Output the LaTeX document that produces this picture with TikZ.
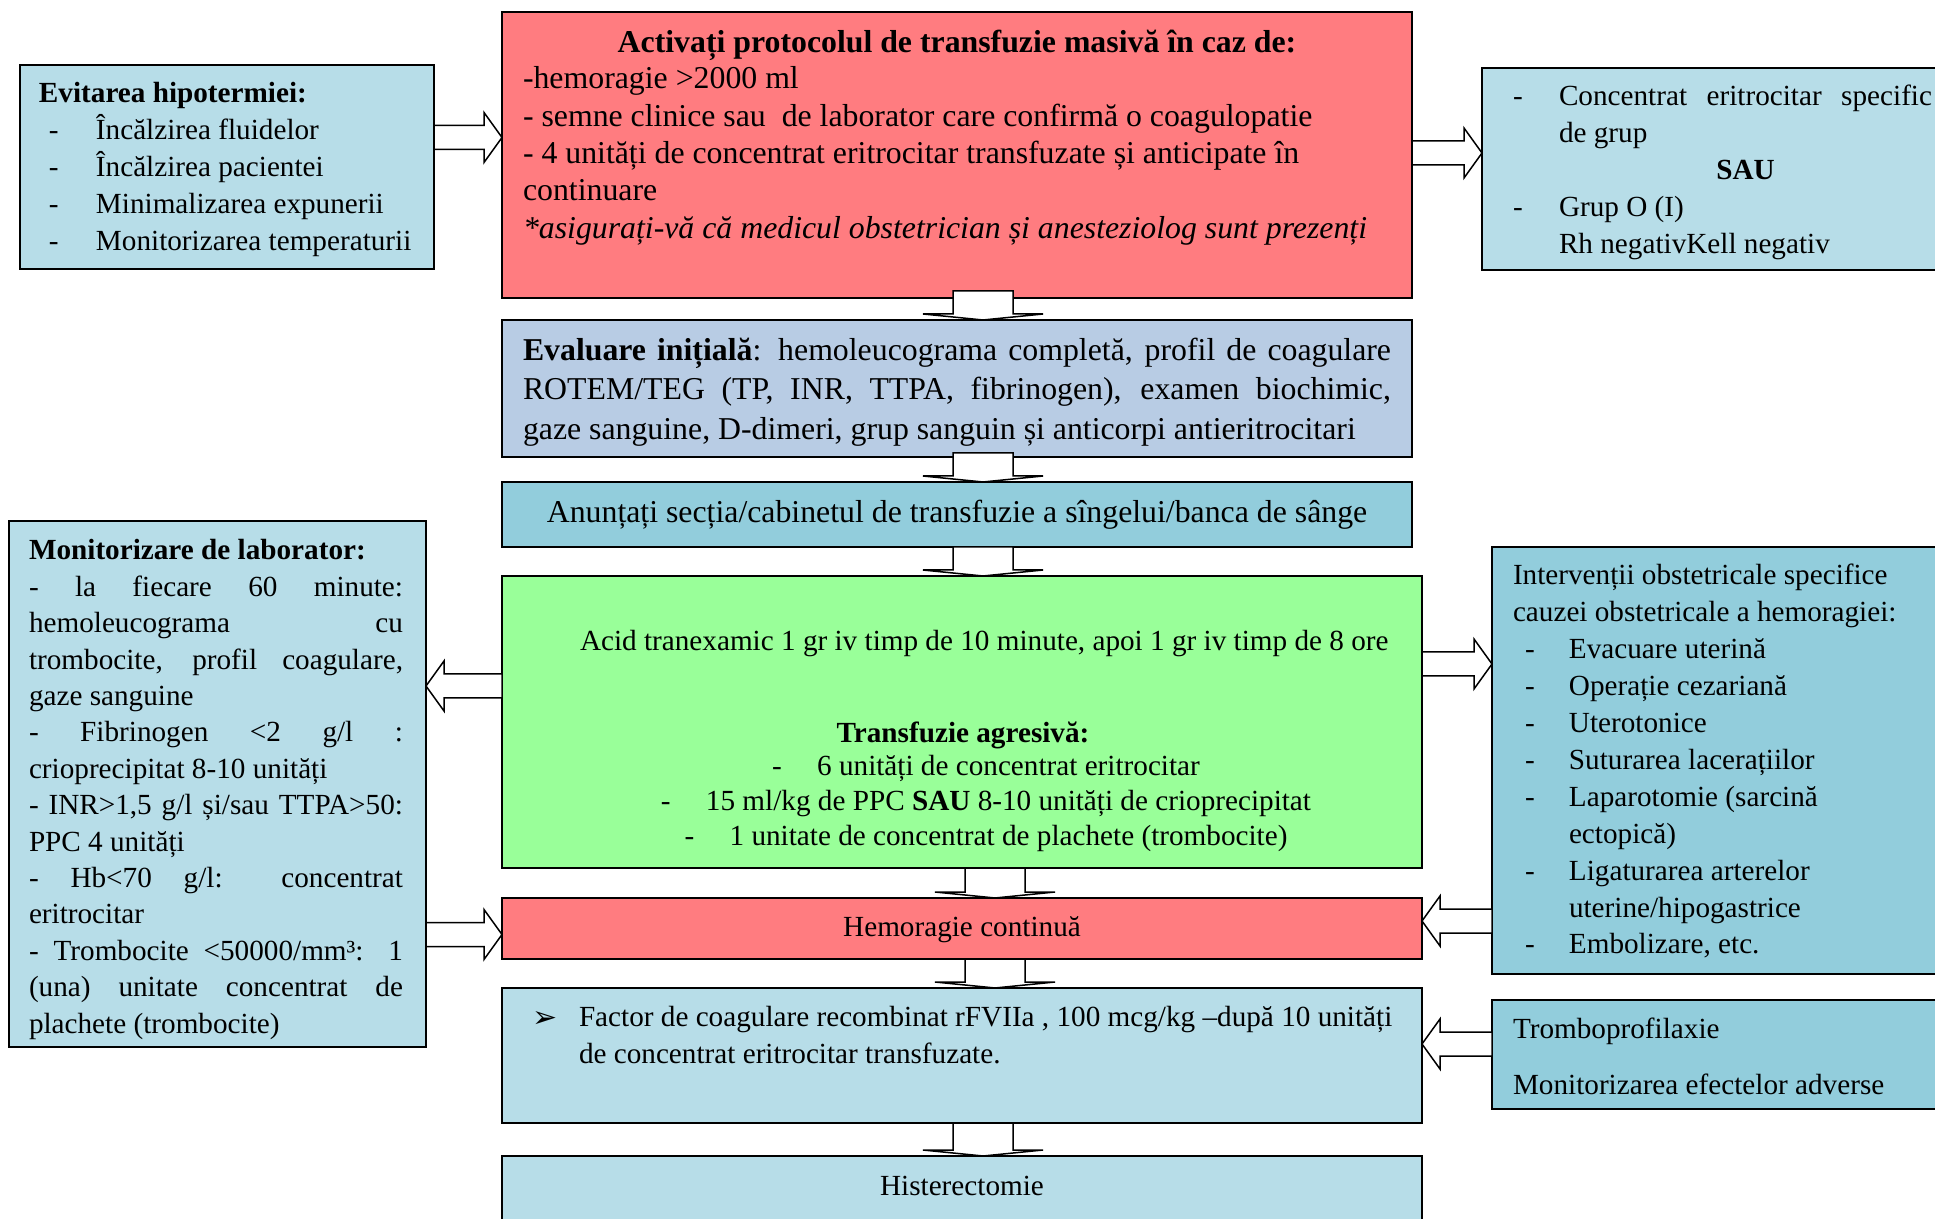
\documentclass[tikz,border=0pt]{standalone}
\usepackage{fontspec}
\setmainfont{Liberation Serif}
\newfontfamily\dejavu{DejaVu Sans}
\usetikzlibrary{fit,calc}
\definecolor{redbox}{RGB}{255,124,128}
\definecolor{lightblue}{RGB}{183,221,232}
\definecolor{evalblue}{RGB}{184,204,228}
\definecolor{midblue}{RGB}{146,205,220}
\definecolor{greenbox}{RGB}{153,255,153}
\tikzset{
  box/.style={draw, line width=1pt, inner sep=0pt, outer sep=0pt},
  barrow/.style={draw, fill=white, line width=0.75pt, line join=miter},
  txt/.style={inner sep=0pt, outer sep=0pt, anchor=base west, text width=560pt, align=flush left},
  ctxt/.style={inner sep=0pt, outer sep=0pt, anchor=base, text width=700pt, align=flush center},
  sidefont/.style={font=\fontsize{14.6}{18.4}\selectfont},
  mainfont/.style={font=\fontsize{15.9}{18.65}\selectfont},
}
% down block arrow: #1 x (px), #2 source node, #3 target node, #4 overlap into source
\newcommand\downarr[4]{%
  \draw[barrow] let \p1=(#1,0), \p2=(#2.south), \p3=(#3.north) in
    (\x1-15pt,\y2+#4) -- (\x1-15pt,\y3+3pt) -- (\x1-30pt,\y3+3pt) -- (\x1,\y3)
    -- (\x1+30pt,\y3+3pt) -- (\x1+15pt,\y3+3pt) -- (\x1+15pt,\y2+#4) -- cycle;}
% right block arrow: #1 y (px), #2 source (west side), #3 target (east side)
\newcommand\rightarr[3]{%
  \draw[barrow] let \p1=(0,#1), \p2=(#2.east), \p3=(#3.west) in
    (\x2,\y1+6pt) -- (\x3-9pt,\y1+6pt) -- (\x3-9pt,\y1+12.5pt) -- (\x3,\y1)
    -- (\x3-9pt,\y1-12.5pt) -- (\x3-9pt,\y1-6pt) -- (\x2,\y1-6pt) -- cycle;}
\newcommand\leftarr[3]{%
  \draw[barrow] let \p1=(0,#1), \p2=(#2.west), \p3=(#3.east) in
    (\x2,\y1+6pt) -- (\x3+9pt,\y1+6pt) -- (\x3+9pt,\y1+12.5pt) -- (\x3,\y1)
    -- (\x3+9pt,\y1-12.5pt) -- (\x3+9pt,\y1-6pt) -- (\x2,\y1-6pt) -- cycle;}
\begin{document}
\begin{tikzpicture}[x=0.5pt,y=-0.5pt]
\path[use as bounding box, fill=white] (0,0) rectangle (1935,1219);
\begin{scope}
\clip (0,0) rectangle (1935,1219);
% boxes
\node[box, fill=lightblue, fit={(20,65) (434,269)}] (evit) {};
\node[box, fill=redbox, fit={(502,12) (1412,298)}] (act) {};
\node[box, fill=lightblue, fit={(1482,68) (1960,270)}] (conc) {};
\node[box, fill=evalblue, fit={(502,320) (1412,457)}] (eval) {};
\node[box, fill=midblue, fit={(502,482) (1412,547)}] (anunt) {};
\node[box, fill=greenbox, fit={(502,576) (1422,868)}] (green) {};
\node[box, fill=lightblue, fit={(9,521) (426,1047)}] (monit) {};
\node[box, fill=midblue, fit={(1492,547) (1960,974)}] (interv) {};
\node[box, fill=redbox, fit={(502,898) (1422,959)}] (hemo) {};
\node[box, fill=lightblue, fit={(502,988) (1422,1123)}] (factor) {};
\node[box, fill=midblue, fit={(1492,1000) (1960,1109)}] (trombo) {};
\node[box, fill=lightblue, fit={(502,1156) (1422,1260)}] (hister) {};
% arrows
\rightarr{137.5}{evit}{act}
\rightarr{153}{act}{conc}
\downarr{983}{act}{eval}{3.5pt}
\downarr{983}{eval}{anunt}{2pt}
\downarr{983}{anunt}{green}{0pt}
\leftarr{686}{green}{monit}
\rightarr{664}{green}{interv}
\downarr{995}{green}{hemo}{0pt}
\rightarr{934.5}{monit}{hemo}
\leftarr{921}{interv}{hemo}
\downarr{995}{hemo}{factor}{0pt}
\leftarr{1044}{trombo}{factor}
\downarr{983}{factor}{hister}{0pt}
% texts
\node[txt, font=\fontsize{14.6}{18.5}\selectfont] (tevit) at (39,103) {\textbf{Evitarea hipotermiei:}\\
\hspace*{5pt}\makebox[23.5pt][l]{-}Încălzirea fluidelor\\
\hspace*{5pt}\makebox[23.5pt][l]{-}Încălzirea pacientei\\
\hspace*{5pt}\makebox[23.5pt][l]{-}Minimalizarea expunerii\\
\hspace*{5pt}\makebox[23.5pt][l]{-}Monitorizarea temperaturii};
\node[ctxt, mainfont] (tacttitle) at (957,53) {\textbf{Activați protocolul de transfuzie masivă în caz de:}};
\node[txt, mainfont] (tact) at (523,89) {-hemoragie >2000 ml\\
- semne clinice sau\ \ de laborator care confirmă o coagulopatie\\
- 4 unități de concentrat eritrocitar transfuzate și anticipate în\\
continuare\\
\textit{*asigurați-vă că medicul obstetrician și anesteziolog sunt prezenți}};
\node[txt, sidefont] (tconc) at (1513,106) {\makebox[23pt][l]{-}\makebox[186.5pt][s]{Concentrat eritrocitar specific}\\
\hspace*{23pt}de grup\\
\hspace*{23pt}\makebox[186.5pt][c]{\textbf{SAU}}\\
\makebox[23pt][l]{-}Grup O (I)\\
\hspace*{23pt}Rh negativKell negativ};
\node[txt, font=\fontsize{15.9}{19.75}\selectfont] (teval) at (523,360.5) {\makebox[434pt][s]{\textbf{Evaluare inițială}: hemoleucograma completă, profil de coagulare}\\
\makebox[434pt][s]{ROTEM/TEG (TP, INR, TTPA, fibrinogen), examen biochimic,}\\
gaze sanguine, D-dimeri, grup sanguin și anticorpi antieritrocitari};
\node[ctxt, mainfont] (tanunt) at (957,522.5) {Anunțați secția/cabinetul de transfuzie a sîngelui/banca de sânge};
\node[txt, sidefont] (tacid) at (580,651) {Acid tranexamic 1 gr iv timp de 10 minute, apoi 1 gr iv timp de 8 ore};
\node[ctxt, sidefont] (ttransf) at (963,742) {\textbf{Transfuzie agresivă:}};
\node[ctxt, font=\fontsize{14.6}{17.3}\selectfont] (tlist) at (986,776) {\makebox[22.5pt][l]{-}6 unități de concentrat eritrocitar\\
\makebox[22.5pt][l]{-}15 ml/kg de PPC \textbf{SAU} 8-10 unități de crioprecipitat\\
\makebox[22.5pt][l]{-}1 unitate de concentrat de plachete (trombocite)};
\node[txt, font=\fontsize{14.6}{18.2}\selectfont] (tmonit) at (29,560) {\textbf{Monitorizare de laborator:}\\
\makebox[187pt][s]{- la fiecare 60 minute:}\\
\makebox[187pt][s]{hemoleucograma cu}\\
\makebox[187pt][s]{trombocite, profil coagulare,}\\
gaze sanguine\\
\makebox[187pt][s]{- Fibrinogen <2 g/l :}\\
crioprecipitat 8-10 unități\\
\makebox[187pt][s]{- INR>1,5 g/l și/sau TTPA>50:}\\
PPC 4 unități\\
\makebox[187pt][s]{- Hb<70 g/l: concentrat}\\
eritrocitar\\
\makebox[187pt][s]{- Trombocite <50000/mm³: 1}\\
\makebox[187pt][s]{(una) unitate concentrat de}\\
plachete (trombocite)};
\node[txt, font=\fontsize{14.6}{18.45}\selectfont] (tinterv) at (1513,585) {Intervenții obstetricale specifice\\
cauzei obstetricale a hemoragiei:\\
\hspace*{6pt}\makebox[22pt][l]{-}Evacuare uterină\\
\hspace*{6pt}\makebox[22pt][l]{-}Operație cezariană\\
\hspace*{6pt}\makebox[22pt][l]{-}Uterotonice\\
\hspace*{6pt}\makebox[22pt][l]{-}Suturarea lacerațiilor\\
\hspace*{6pt}\makebox[22pt][l]{-}Laparotomie (sarcină\\
\hspace*{28pt}ectopică)\\
\hspace*{6pt}\makebox[22pt][l]{-}Ligaturarea arterelor\\
\hspace*{28pt}uterine/hipogastrice\\
\hspace*{6pt}\makebox[22pt][l]{-}Embolizare, etc.};
\node[ctxt, sidefont] (themo) at (962,936) {Hemoragie continuă};
\node[txt, font=\dejavu\fontsize{15}{16}\selectfont] (tbullet) at (532,1027) {➢};
\node[txt, font=\fontsize{14.6}{18.7}\selectfont] (tfactor) at (579,1026.5) {Factor de coagulare recombinat rFVIIa , 100 mcg/kg –după 10 unități\\
de concentrat eritrocitar transfuzate.};
\node[txt, font=\fontsize{14.6}{18.4}\selectfont] (ttrombo) at (1513,1038) {Tromboprofilaxie\\[9.6pt]
Monitorizarea efectelor adverse};
\node[ctxt, sidefont] (thister) at (962,1195) {Histerectomie};
\end{scope}
\end{tikzpicture}
\end{document}
